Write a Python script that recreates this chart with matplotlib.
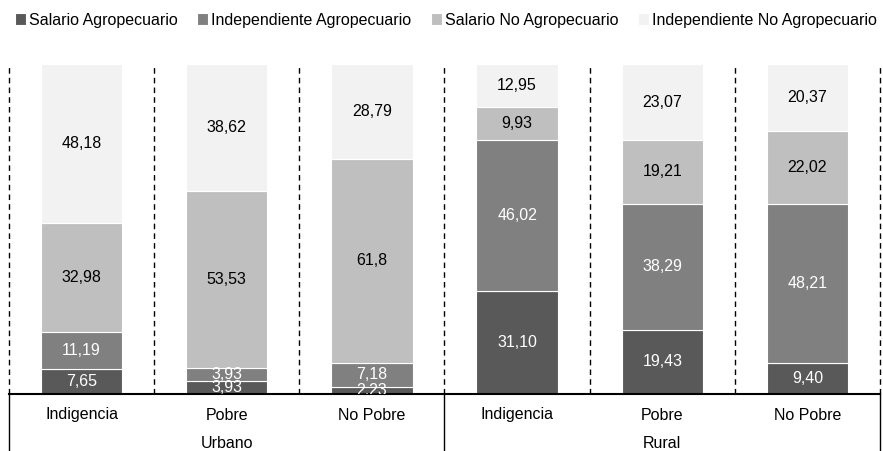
import numpy as np
import matplotlib.pyplot as plt
from matplotlib.transforms import blended_transform_factory

plt.rcParams['font.family'] = ['Liberation Sans', 'DejaVu Sans']

# Datos (etiquetas tal como aparecen en el gráfico)
categorias = ['Indigencia', 'Pobre', 'No Pobre', 'Indigencia', 'Pobre', 'No Pobre']
grupos = ['Urbano', 'Rural']
salario_agro = ['7,65', '3,93', '2,23', '31,10', '19,43', '9,40']
indep_agro = ['11,19', '3,93', '7,18', '46,02', '38,29', '48,21']
salario_no_agro = ['32,98', '53,53', '61,8', '9,93', '19,21', '22,02']
indep_no_agro = ['48,18', '38,62', '28,79', '12,95', '23,07', '20,37']

series = [
    ('Salario Agropecuario', salario_agro, '#595959', 'white'),
    ('Independiente Agropecuario', indep_agro, '#808080', 'white'),
    ('Salario No Agropecuario', salario_no_agro, '#bfbfbf', 'black'),
    ('Independiente No Agropecuario', indep_no_agro, '#f2f2f2', 'black'),
]

fig = plt.figure(figsize=(8.83, 4.51), dpi=100)
ax = fig.add_axes([9 / 883, 57 / 451, 871 / 883, 330 / 451])

x = np.arange(len(categorias))
bottom = np.zeros(len(categorias))
for nombre, etiquetas, color, txt_color in series:
    vals = np.array([float(s.replace(',', '.')) for s in etiquetas])
    ax.bar(x, vals, 0.56, bottom=bottom, color=color, edgecolor='white',
           linewidth=0.8, label=nombre)
    for xi, v, b, s in zip(x, vals, bottom, etiquetas):
        ax.text(xi, b + v / 2, s, ha='center', va='center', fontsize=11.5,
                color=txt_color, clip_on=True)
    bottom += vals

ax.set_xlim(-0.5, 5.5)
ax.set_ylim(0, 100)
for s in ['top', 'left', 'right']:
    ax.spines[s].set_visible(False)
ax.spines['bottom'].set_linewidth(1.5)
ax.set_yticks([])
ax.set_xticks([])

# separadores punteados
for xb in np.arange(-0.5, 6, 1):
    ax.plot([xb, xb], [0, 100], color='black', linestyle=(0, (4, 3)),
            linewidth=1, clip_on=False)

# eje de categorías en dos niveles
tr = blended_transform_factory(ax.transData, ax.transAxes)
for xi, c in enumerate(categorias):
    ax.text(xi, -21 / 330, c, ha='center', va='center', fontsize=11.5, transform=tr)
for gi, g in enumerate(grupos):
    ax.text(gi * 3 + 1, -50 / 330, g, ha='center', va='center', fontsize=11.5,
            transform=tr)
for xb in [-0.5, 2.5, 5.5]:
    ax.plot([xb, xb], [0, -0.2], color='black', linewidth=1, transform=tr,
            clip_on=False)

fig.legend(loc='center', bbox_to_anchor=(0.505, 1 - 20 / 451), ncol=4,
           frameon=False, fontsize=11.5, handlelength=0.7, handleheight=0.7,
           handletextpad=0.2, columnspacing=1.2, borderaxespad=0)

fig.savefig('out.png', dpi=100)
